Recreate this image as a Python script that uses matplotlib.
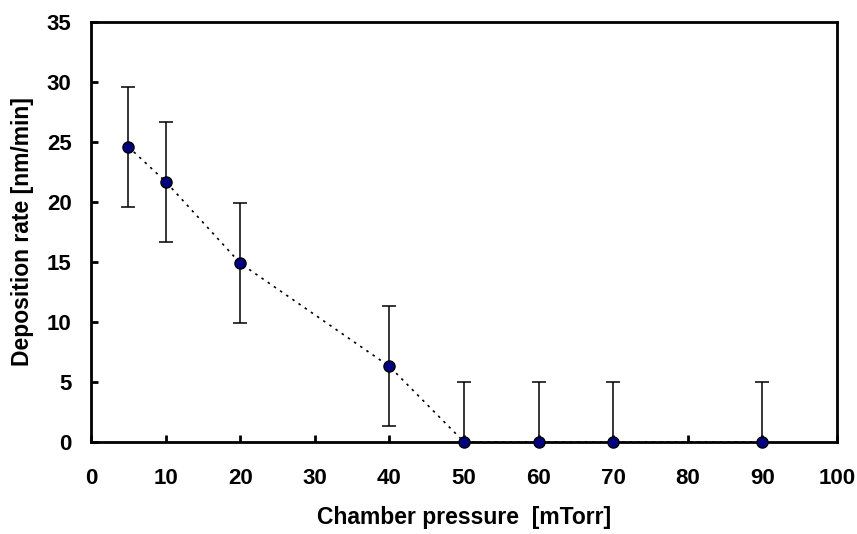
import matplotlib.pyplot as plt

plt.rcParams['font.family'] = ['Liberation Sans', 'DejaVu Sans']
plt.rcParams['font.weight'] = 'bold'

# data
pressure = [5, 10, 20, 40, 50, 60, 70, 90]
rate = [24.6, 21.7, 14.9, 6.3, 0, 0, 0, 0]
rate_err = [5, 5, 5, 5, 5, 5, 5, 5]

xticks = [0, 10, 20, 30, 40, 50, 60, 70, 80, 90, 100]
yticks = [0, 5, 10, 15, 20, 25, 30, 35]

fig = plt.figure(figsize=(8.57, 5.34), dpi=100)
ax = fig.add_axes([0.1062, 0.1723, 0.8705, 0.7865])

ax.plot(pressure, rate, color='black', linestyle=(0, (1.5, 3)), linewidth=1.2, zorder=2)
ax.errorbar(pressure, rate, yerr=rate_err, fmt='none', ecolor='black',
            elinewidth=1.1, capsize=5, capthick=1.1, zorder=3)
ax.plot(pressure, rate, 'o', markersize=8, markerfacecolor='#000080',
        markeredgecolor='black', markeredgewidth=1, linestyle='none',
        zorder=4, clip_on=False)

ax.set_xlim(0, 100)
ax.set_ylim(0, 35)
ax.set_xticks(xticks)
ax.set_yticks(yticks)

for side in ['left', 'bottom', 'right', 'top']:
    ax.spines[side].set_linewidth(2)
ax.tick_params(direction='in', length=5, width=2, labelsize=16)
ax.tick_params(axis='y', pad=14)
ax.tick_params(axis='x', pad=19)
for lab in ax.get_xticklabels() + ax.get_yticklabels():
    lab.set_fontweight('bold')

ax.set_xlabel('Chamber pressure  [mTorr]', fontsize=16.5, fontweight='bold', labelpad=12)
ax.set_ylabel('Deposition rate [nm/min]', fontsize=16.5, fontweight='bold', labelpad=9)

plt.savefig('out.png', dpi=100)
